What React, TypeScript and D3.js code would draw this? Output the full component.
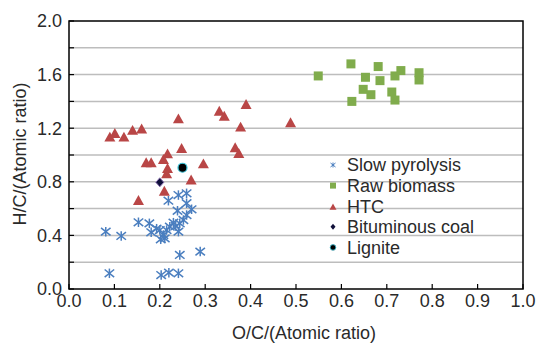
import React from "react";
import * as d3 from "d3";

const slowPyrolysis: [number, number][] = [
  [0.081, 0.428], [0.115, 0.396], [0.089, 0.117], [0.153, 0.498], [0.177, 0.49],
  [0.181, 0.423], [0.219, 0.659], [0.241, 0.701], [0.259, 0.714], [0.259, 0.64],
  [0.239, 0.584], [0.27, 0.595], [0.259, 0.552], [0.252, 0.515], [0.244, 0.49],
  [0.23, 0.495], [0.222, 0.465], [0.215, 0.44], [0.2, 0.44], [0.208, 0.403],
  [0.202, 0.371], [0.241, 0.428], [0.211, 0.378], [0.244, 0.254], [0.289, 0.279],
  [0.203, 0.104], [0.22, 0.122], [0.241, 0.117], [0.193, 0.45], [0.235, 0.47],
];
const rawBiomass: [number, number][] = [
  [0.549, 1.59], [0.621, 1.68], [0.681, 1.66], [0.653, 1.58], [0.685, 1.555],
  [0.718, 1.59], [0.731, 1.63], [0.771, 1.614], [0.771, 1.56], [0.648, 1.49],
  [0.665, 1.45], [0.711, 1.47], [0.718, 1.41], [0.623, 1.4],
];
const htc: [number, number][] = [
  [0.09, 1.13], [0.101, 1.157], [0.121, 1.13], [0.14, 1.18], [0.16, 1.19],
  [0.241, 1.266], [0.248, 1.045], [0.217, 1.005], [0.208, 0.963], [0.17, 0.938],
  [0.181, 0.938], [0.217, 0.896], [0.215, 0.856], [0.296, 0.93], [0.269, 0.81],
  [0.21, 0.726], [0.153, 0.657], [0.331, 1.323], [0.342, 1.286], [0.39, 1.373],
  [0.378, 1.204], [0.488, 1.237], [0.366, 1.05], [0.374, 1.007],
];
const bituminousCoal: [number, number][] = [[0.2, 0.796]];
const lignite: [number, number][] = [[0.25, 0.905]];

const xTicks = [0, 0.1, 0.2, 0.3, 0.4, 0.5, 0.6, 0.7, 0.8, 0.9, 1.0];
const yMinorTicks = [0, 0.2, 0.4, 0.6, 0.8, 1.0, 1.2, 1.4, 1.6, 1.8, 2.0];
const yLabelTicks = [0, 0.4, 0.8, 1.2, 1.6, 2.0];
const legendLabels = ["Slow pyrolysis", "Raw biomass", "HTC", "Bituminous coal", "Lignite"];

const BLUE = "#4a7ebf";
const GREEN = "#80ac4c";
const RED = "#b94646";
const TXT = "#2a2a2a";
const FONT = "'Liberation Sans', Arial, sans-serif";

const W = 536, H = 343;
const L = 69, R = 523, T = 21, B = 289;

function Star({ x, y, s, sw }: { x: number; y: number; s: number; sw: number }) {
  const h = s / 2;
  return (
    <g stroke={BLUE} strokeWidth={sw} fill="none">
      <line x1={x - h} y1={y - h * 0.8} x2={x + h} y2={y + h * 0.8} />
      <line x1={x - h} y1={y + h * 0.8} x2={x + h} y2={y - h * 0.8} />
      <line x1={x} y1={y - h} x2={x} y2={y + h} />
    </g>
  );
}

function Tri({ x, y, s }: { x: number; y: number; s: number }) {
  const h = s * 0.9;
  return <path d={`M${x},${y - h * 0.6}L${x + s / 2},${y + h * 0.4}L${x - s / 2},${y + h * 0.4}Z`} fill={RED} />;
}

export default function App() {
  const xs = d3.scaleLinear().domain([0, 1]).range([L, R]);
  const ys = d3.scaleLinear().domain([0, 2]).range([B, T]);
  const fmt = d3.format(".1f");
  const lx = 333, tx = 347;
  const ly = (i: number) => 165 + i * 20.6;

  return (
    <svg width={W} height={H} style={{ position: "absolute", left: 0, top: 0, background: "#fff" }} fontFamily={FONT}>
      {yMinorTicks.filter((v) => v > 0 && v < 2).map((v) => (
        <line key={"g" + v} x1={L} x2={R} y1={ys(v)} y2={ys(v)} stroke="#bdbdbd" strokeWidth={1.5} />
      ))}
      <rect x={L} y={T} width={R - L} height={B - T} fill="none" stroke="#000" strokeWidth={1.5} />
      {yMinorTicks.map((v) => (
        <line key={"yt" + v} x1={L} x2={L + 5} y1={ys(v)} y2={ys(v)} stroke="#000" strokeWidth={1.2} />
      ))}
      {xTicks.map((v) => (
        <line key={"xt" + v} x1={xs(v)} x2={xs(v)} y1={B} y2={B - 5} stroke="#000" strokeWidth={1.2} />
      ))}
      {yLabelTicks.map((v) => (
        <text key={"yl" + v} x={L - 7} y={ys(v)} dy="0.35em" textAnchor="end" fontSize={18} fill={TXT}>
          {fmt(v)}
        </text>
      ))}
      {xTicks.map((v) => (
        <text key={"xl" + v} x={xs(v)} y={307} textAnchor="middle" fontSize={18} fill={TXT}>
          {fmt(v)}
        </text>
      ))}
      <text x={304} y={339} textAnchor="middle" fontSize={18} fill={TXT}>O/C/(Atomic ratio)</text>
      <text transform={`translate(26,154) rotate(-90)`} textAnchor="middle" fontSize={18} fill={TXT}>
        H/C/(Atomic ratio)
      </text>
      {rawBiomass.map(([a, b], i) => (
        <rect key={"rb" + i} x={xs(a) - 4.5} y={ys(b) - 4.5} width={9} height={9} fill={GREEN} />
      ))}
      {htc.map(([a, b], i) => (
        <Tri key={"h" + i} x={xs(a)} y={ys(b)} s={11} />
      ))}
      {slowPyrolysis.map(([a, b], i) => (
        <Star key={"s" + i} x={xs(a)} y={ys(b)} s={9.5} sw={1.5} />
      ))}
      {bituminousCoal.map(([a, b], i) => (
        <path key={"bc" + i} d={`M${xs(a)},${ys(b) - 4.5}L${xs(a) + 4},${ys(b)}L${xs(a)},${ys(b) + 4.5}L${xs(a) - 4},${ys(b)}Z`} fill="#10103a" stroke="#8a6fb0" strokeWidth={1} />
      ))}
      {lignite.map(([a, b], i) => (
        <circle key={"lg" + i} cx={xs(a)} cy={ys(b)} r={4.5} fill="#000" stroke="#3cc3d8" strokeWidth={1.2} />
      ))}
      <Star x={lx} y={ly(0)} s={5} sw={1} />
      <rect x={lx - 3} y={ly(1) - 3} width={6} height={6} fill={GREEN} />
      <Tri x={lx} y={ly(2) + 1} s={7} />
      <path d={`M${lx},${ly(3) - 3}L${lx + 2.5},${ly(3)}L${lx},${ly(3) + 3}L${lx - 2.5},${ly(3)}Z`} fill="#10103a" />
      <circle cx={lx} cy={ly(4)} r={2.8} fill="#000" stroke="#3cc3d8" strokeWidth={0.8} />
      {legendLabels.map((t, i) => (
        <text key={t} x={tx} y={ly(i)} dy="0.36em" fontSize={18} fill={TXT}>{t}</text>
      ))}
    </svg>
  );
}
